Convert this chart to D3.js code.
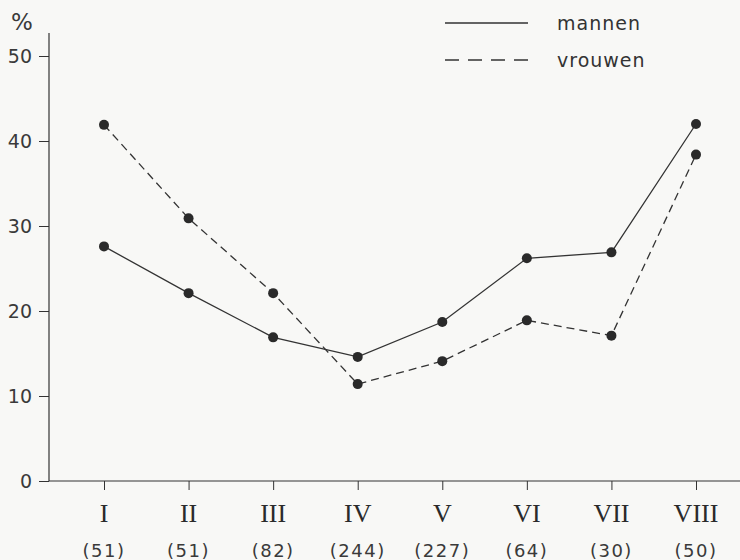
<html>
<head>
  <script src="https://d3js.org/d3.v7.min.js"></script>
  <style>
    body { margin: 0; background: #f8f8f6; }
    .tick-label { font-family: "DejaVu Sans", sans-serif; font-size: 19px; fill: #3a3a3a; }
    .roman { font-family: "Liberation Serif", serif; font-size: 26px; fill: #2a2a2a; }
    .count { font-family: "DejaVu Sans", sans-serif; font-size: 18px; fill: #3a3a3a; letter-spacing: 1.5px; }
    .legend-label { font-family: "DejaVu Sans", sans-serif; font-size: 19px; fill: #333; letter-spacing: 1px; }
  </style>
</head>
<body>
  <svg id="chart" width="740" height="560"></svg>
  <script>
    // categories and group sizes
    const groups = ["I", "II", "III", "IV", "V", "VI", "VII", "VIII"];
    const counts = ["(51)", "(51)", "(82)", "(244)", "(227)", "(64)", "(30)", "(50)"];

    // percentages
    const mannen = [27.6, 22.1, 16.9, 14.6, 18.7, 26.2, 26.9, 42.0];
    const vrouwen = [41.9, 30.9, 22.1, 11.4, 14.1, 18.9, 17.1, 38.4];

    const yTicks = [0, 10, 20, 30, 40, 50];

    const svg = d3.select("svg#chart");
    const ink = "#333";

    const x = d3.scalePoint().domain(groups).range([104, 696]);
    const y = d3.scaleLinear().domain([0, 50]).range([481, 56]);

    // y axis
    const yAxis = d3.axisLeft(y).tickValues(yTicks).tickSize(10).tickPadding(7);
    const gy = svg.append("g").attr("transform", "translate(49,0)").call(yAxis);
    gy.select(".domain").remove();
    gy.selectAll(".tick line").attr("stroke", ink).attr("stroke-width", 1);
    gy.selectAll(".tick text").attr("class", "tick-label").attr("fill", null);
    svg.append("line")
      .attr("x1", 49).attr("x2", 49)
      .attr("y1", 33).attr("y2", y(0))
      .attr("stroke", ink).attr("stroke-width", 1.2);

    svg.append("text")
      .attr("class", "tick-label")
      .attr("x", 22).attr("y", 30)
      .attr("text-anchor", "middle")
      .style("font-size", "23px")
      .text("%");

    // x axis
    const xAxis = d3.axisBottom(x).tickSize(9).tickFormat("");
    const gx = svg.append("g").attr("transform", "translate(0," + y(0) + ")").call(xAxis);
    gx.select(".domain").remove();
    gx.selectAll(".tick line").attr("stroke", ink).attr("stroke-width", 1);
    svg.append("line")
      .attr("x1", 49).attr("x2", 740)
      .attr("y1", y(0)).attr("y2", y(0))
      .attr("stroke", ink).attr("stroke-width", 1.2);

    svg.selectAll(".roman")
      .data(groups)
      .join("text")
      .attr("class", "roman")
      .attr("x", d => x(d))
      .attr("y", 522)
      .attr("text-anchor", "middle")
      .text(d => d);

    svg.selectAll(".count")
      .data(groups)
      .join("text")
      .attr("class", "count")
      .attr("x", d => x(d))
      .attr("y", 557)
      .attr("text-anchor", "middle")
      .text((d, i) => counts[i]);

    // lines
    const line = d3.line().x((d, i) => x(groups[i])).y(d => y(d));

    svg.append("path")
      .attr("d", line(mannen))
      .attr("fill", "none")
      .attr("stroke", ink)
      .attr("stroke-width", 1.3);

    svg.append("path")
      .attr("d", line(vrouwen))
      .attr("fill", "none")
      .attr("stroke", ink)
      .attr("stroke-width", 1.3)
      .attr("stroke-dasharray", "8,5");

    [mannen, vrouwen].forEach(series => {
      svg.append("g").selectAll("circle")
        .data(series)
        .join("circle")
        .attr("cx", (d, i) => x(groups[i]))
        .attr("cy", d => y(d))
        .attr("r", 5)
        .attr("fill", "#2a2a2a");
    });

    // legend
    const legend = svg.append("g");
    legend.append("line")
      .attr("x1", 445).attr("x2", 528).attr("y1", 23).attr("y2", 23)
      .attr("stroke", ink).attr("stroke-width", 1.3);
    legend.append("text")
      .attr("class", "legend-label")
      .attr("x", 557).attr("y", 30)
      .text("mannen");
    legend.append("line")
      .attr("x1", 445).attr("x2", 528).attr("y1", 60).attr("y2", 60)
      .attr("stroke", ink).attr("stroke-width", 1.3)
      .attr("stroke-dasharray", "14,9");
    legend.append("text")
      .attr("class", "legend-label")
      .attr("x", 557).attr("y", 67)
      .text("vrouwen");
  </script>
</body>
</html>
